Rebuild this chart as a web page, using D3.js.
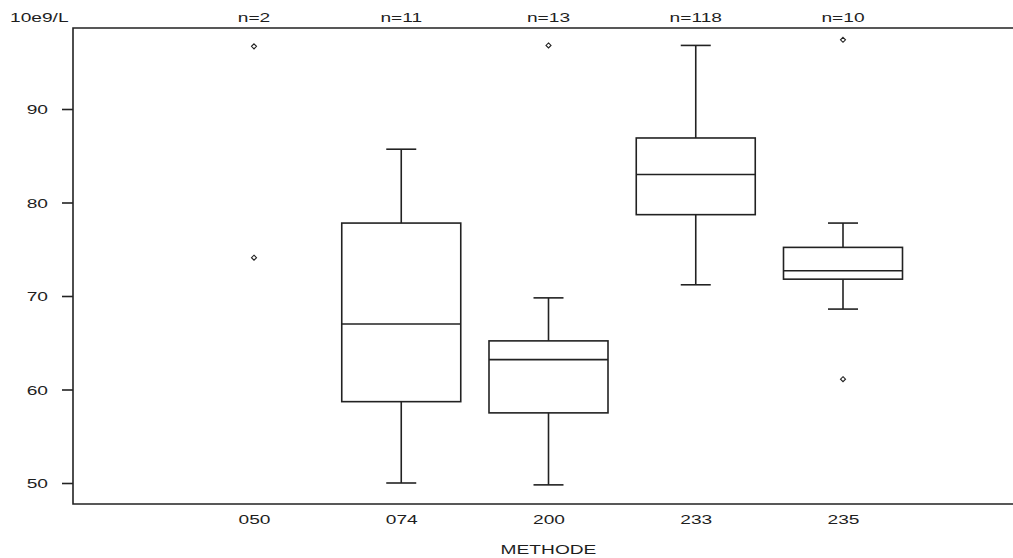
<!DOCTYPE html>
<html>
<head>
<meta charset="utf-8">
<script src="https://cdn.jsdelivr.net/npm/d3@7"></script>
<style>
  html, body { margin: 0; padding: 0; background: #fff; }
  svg { display: block; }
  text { font-family: "Liberation Sans", Arial, sans-serif; font-size: 13.5px; fill: #1e1e1e; }
</style>
</head>
<body>
<svg id="chart" width="1013" height="558"></svg>
<script>
// Box-plot summary per method (10e9/L)
const categories  = ["050", "074", "200", "233", "235"];
const counts      = [2, 11, 13, 118, 10];
const whiskerLow  = [null, 50.0, 49.8, 71.2, 68.6];
const q1          = [null, 58.7, 57.5, 78.7, 71.8];
const median      = [null, 67.0, 63.2, 83.0, 72.7];
const q3          = [null, 77.8, 65.2, 86.9, 75.2];
const whiskerHigh = [null, 85.7, 69.8, 96.8, 77.8];
const outlierCat  = ["050", "050", "200", "235", "235"];
const outlierVal  = [96.7, 74.1, 96.8, 97.4, 61.1];
const yTicks      = [50, 60, 70, 80, 90];
const yUnit       = "10e9/L";
const xTitle      = "METHODE";

const svg = d3.select("#chart");
const stretch = 1.42;           // horizontal glyph stretch
const ink = "#222";

const frame = { left: 73, right: 1030, top: 28, bottom: 504 };
const x = d3.scalePoint().domain(categories).range([254, 843]);
const y = d3.scaleLinear().domain([50, 90]).range([483, 109]);

// helper: stretched text at (px, py)
function label(g, px, py, txt, anchor) {
  return g.append("text")
    .attr("transform", `translate(${px},${py}) scale(${stretch},1)`)
    .attr("text-anchor", anchor || "middle")
    .text(txt);
}

// frame lines
svg.append("path")
  .attr("d", `M${frame.right},${frame.top}H${frame.left}V${frame.bottom}H${frame.right}`)
  .attr("fill", "none").attr("stroke", ink).attr("stroke-width", 1.6);

// y axis ticks and labels
const yAxis = svg.append("g")
  .attr("transform", `translate(${frame.left},0)`)
  .call(d3.axisLeft(y).tickValues(yTicks).tickSizeInner(11).tickSizeOuter(0).tickFormat(d3.format("d")));
yAxis.select(".domain").remove();
yAxis.selectAll(".tick line").attr("stroke", ink).attr("stroke-width", 1.6);
yAxis.selectAll(".tick text")
  .attr("x", null).attr("dy", null)
  .attr("transform", `translate(-25,4.5) scale(${stretch},1)`)
  .attr("font-size", null).attr("font-family", null).attr("fill", null);

// x axis labels
const xAxis = svg.append("g")
  .attr("transform", `translate(0,${frame.bottom})`)
  .call(d3.axisBottom(x).tickSize(0));
xAxis.select(".domain").remove();
xAxis.selectAll(".tick text")
  .attr("y", null).attr("dy", null)
  .attr("transform", `translate(0,19.5) scale(${stretch},1)`)
  .attr("font-size", null).attr("font-family", null).attr("fill", null);

// titles
label(svg, 10, 22, yUnit, "start");
label(svg, (frame.left + 1024) / 2, 554, xTitle);

// counts above plot
categories.forEach((c, i) => label(svg, x(c), 22, "n=" + counts[i]));

// boxes
const halfBox = 59.5, halfCap = 15;
const marks = svg.append("g").attr("fill", "none").attr("stroke", ink).attr("stroke-width", 1.6);
categories.forEach((c, i) => {
  if (q1[i] == null) return;
  const cx = x(c);
  const g = marks.append("g");
  g.append("rect")
    .attr("x", cx - halfBox).attr("width", 2 * halfBox)
    .attr("y", y(q3[i])).attr("height", y(q1[i]) - y(q3[i]))
    .attr("fill", "#fff");
  g.append("line").attr("x1", cx - halfBox).attr("x2", cx + halfBox)
    .attr("y1", y(median[i])).attr("y2", y(median[i]));
  g.append("line").attr("x1", cx).attr("x2", cx)
    .attr("y1", y(q3[i])).attr("y2", y(whiskerHigh[i]));
  g.append("line").attr("x1", cx).attr("x2", cx)
    .attr("y1", y(q1[i])).attr("y2", y(whiskerLow[i]));
  g.append("line").attr("x1", cx - halfCap).attr("x2", cx + halfCap)
    .attr("y1", y(whiskerHigh[i])).attr("y2", y(whiskerHigh[i]));
  g.append("line").attr("x1", cx - halfCap).attr("x2", cx + halfCap)
    .attr("y1", y(whiskerLow[i])).attr("y2", y(whiskerLow[i]));
});

// outliers: small square diamonds
const diamondPath = "M0,-2.5L2.5,0L0,2.5L-2.5,0Z";
svg.append("g").selectAll("path")
  .data(outlierVal.map((v, i) => ({ c: outlierCat[i], v })))
  .join("path")
  .attr("d", diamondPath)
  .attr("transform", d => `translate(${x(d.c)},${y(d.v)})`)
  .attr("fill", "#fff").attr("stroke", ink).attr("stroke-width", 1.1);
</script>
</body>
</html>
